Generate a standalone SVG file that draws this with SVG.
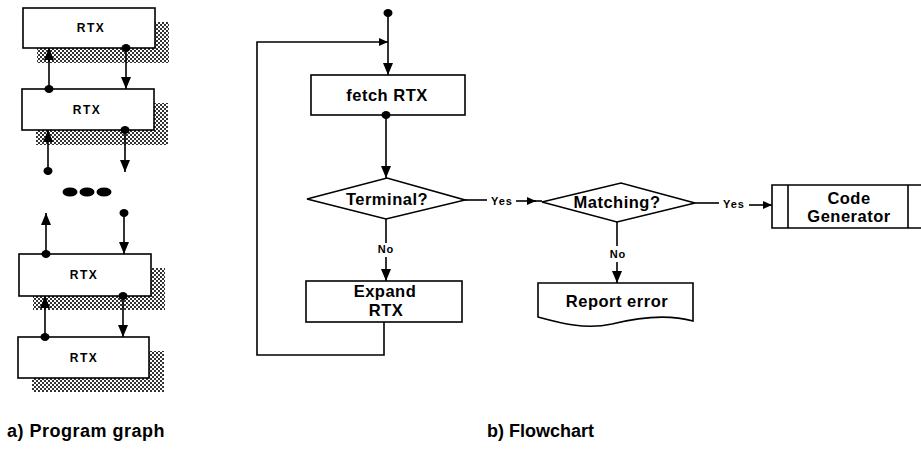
<svg xmlns="http://www.w3.org/2000/svg" width="921" height="453" viewBox="0 0 921 453">
<defs>
<pattern id="dither" width="4" height="4" patternUnits="userSpaceOnUse">
<rect width="4" height="4" fill="#ffffff"/>
<rect x="0" y="0" width="2" height="2" fill="#333"/>
<rect x="2" y="2" width="2" height="2" fill="#333"/>
</pattern>
<marker id="arr" markerUnits="userSpaceOnUse" markerWidth="12" markerHeight="12" refX="12" refY="5" orient="auto">
<path d="M0,0 L12,5 L0,10 Z" fill="#000"/>
</marker>
<marker id="arrs" markerUnits="userSpaceOnUse" markerWidth="10" markerHeight="10" refX="9" refY="4" orient="auto">
<path d="M0,0 L9,4 L0,8 Z" fill="#000"/>
</marker>
</defs>
<style>
.box{fill:#fff;stroke:#000;stroke-width:1.6}
.sh{fill:url(#dither)}
.ln{fill:none;stroke:#000;stroke-width:1.6}
.ar{fill:none;stroke:#000;stroke-width:1.6;marker-end:url(#arr)}
.as{fill:none;stroke:#000;stroke-width:1.6;marker-end:url(#arrs)}
.dot{fill:#000}
.t{font-family:"Liberation Sans",Arial,sans-serif;font-weight:bold;fill:#000;text-anchor:middle}
.rtx{font-size:12px;letter-spacing:1.5px}
.n{font-size:16.5px;letter-spacing:0.5px}
.lab{font-size:11px;letter-spacing:1px}
.cap{font-family:"Liberation Sans",Arial,sans-serif;font-weight:bold;font-size:18px;fill:#000}
</style>

<!-- a) Program graph -->
<g id="pg-box1">
<rect class="sh" x="37" y="22" width="132" height="41"/>
<rect class="box" x="23" y="8" width="132" height="40"/>
<text class="t rtx" x="91" y="32">RTX</text>
</g>
<g id="pg-box2">
<rect class="sh" x="36" y="103" width="132" height="42"/>
<rect class="box" x="22" y="89" width="132" height="41"/>
<text class="t rtx" x="87" y="114">RTX</text>
</g>
<g id="pg-ellipsis">
<ellipse class="dot" cx="70" cy="192" rx="7.5" ry="4.5"/>
<ellipse class="dot" cx="87" cy="192" rx="7.5" ry="4.5"/>
<ellipse class="dot" cx="104" cy="192" rx="7.5" ry="4.5"/>
</g>
<g id="pg-box3">
<rect class="sh" x="33" y="268" width="132" height="42"/>
<rect class="box" x="19" y="254" width="132" height="42"/>
<text class="t rtx" x="84" y="279">RTX</text>
</g>
<g id="pg-box4">
<rect class="sh" x="32" y="351" width="132" height="41"/>
<rect class="box" x="18" y="337" width="131" height="41"/>
<text class="t rtx" x="84" y="362">RTX</text>
</g>
<g id="pg-connectors">
<path class="ar" d="M49,89 V48"/>
<ellipse class="dot" cx="49" cy="89" rx="4.5" ry="4"/>
<path class="ar" d="M126,48 V89"/>
<ellipse class="dot" cx="126" cy="48" rx="4.5" ry="4"/>
<path class="ar" d="M48,171 V130"/>
<ellipse class="dot" cx="48" cy="171" rx="4.5" ry="4"/>
<path class="ar" d="M125,130 V172"/>
<ellipse class="dot" cx="125" cy="130" rx="4.5" ry="4"/>
<path class="ar" d="M46,254 V213"/>
<ellipse class="dot" cx="46" cy="254" rx="4.5" ry="4"/>
<path class="ar" d="M124,213 V254"/>
<ellipse class="dot" cx="124" cy="213" rx="4.5" ry="4"/>
<path class="ar" d="M45,337 V296"/>
<ellipse class="dot" cx="45" cy="337" rx="4.5" ry="4"/>
<path class="ar" d="M123,296 V337"/>
<ellipse class="dot" cx="123" cy="296" rx="4.5" ry="4"/>
</g>
<text class="cap" x="7" y="437" letter-spacing="0.5">a) Program graph</text>

<!-- b) Flowchart -->
<g id="fetch">
<rect class="box" x="311" y="75" width="154" height="40"/>
<text class="t n" x="387" y="101">fetch RTX</text>
</g>
<g id="terminal">
<path class="box" d="M307,199 L387,178 L465,200 L386,219 Z"/>
<text class="t n" x="387" y="205">Terminal?</text>
</g>
<g id="expand">
<rect class="box" x="306" y="281" width="156" height="41"/>
<text class="t n" x="385" y="297">Expand</text>
<text class="t n" x="386" y="316">RTX</text>
</g>
<g id="matching">
<path class="box" d="M542,202 L621,183 L695,203 L617,222 Z"/>
<text class="t n" x="617" y="208">Matching?</text>
</g>
<g id="report">
<path class="box" d="M538,283 H693 V321 C668,314 640,317 612,324 C585,330 560,323 538,317 Z"/>
<text class="t n" x="617" y="307">Report error</text>
</g>
<g id="codegen">
<path class="box" d="M935,185 H772 V228 H935"/>
<line class="ln" x1="788" y1="185" x2="788" y2="228"/>
<line class="ln" x1="908" y1="185" x2="908" y2="228"/>
<text class="t n" x="849" y="204">Code</text>
<text class="t n" x="849" y="222">Generator</text>
</g>
<g id="fc-connectors">
<ellipse class="dot" cx="388" cy="13" rx="4.5" ry="4"/>
<path class="ar" d="M388,13 V75"/>
<path class="as" d="M384,322 V355 H257 V42 H388"/>
<ellipse class="dot" cx="386" cy="115" rx="4.5" ry="4"/>
<path class="ar" d="M386,115 V178"/>
<path class="ln" d="M465,200 H487"/>
<text class="t lab" x="502" y="205">Yes</text>
<path class="as" d="M516,201 H536"/>
<path class="ln" d="M534,201 H542"/>
<path class="ln" d="M386,219 V243"/>
<text class="t lab" x="386" y="253">No</text>
<path class="ar" d="M386,257 V281"/>
<path class="ln" d="M695,203 H719"/>
<text class="t lab" x="734" y="208">Yes</text>
<path class="as" d="M749,205 H772"/>
<path class="ln" d="M617,222 V246"/>
<text class="t lab" x="618" y="258">No</text>
<path class="ar" d="M617,262 V283"/>
</g>
<text class="cap" x="487" y="437">b) Flowchart</text>
</svg>
